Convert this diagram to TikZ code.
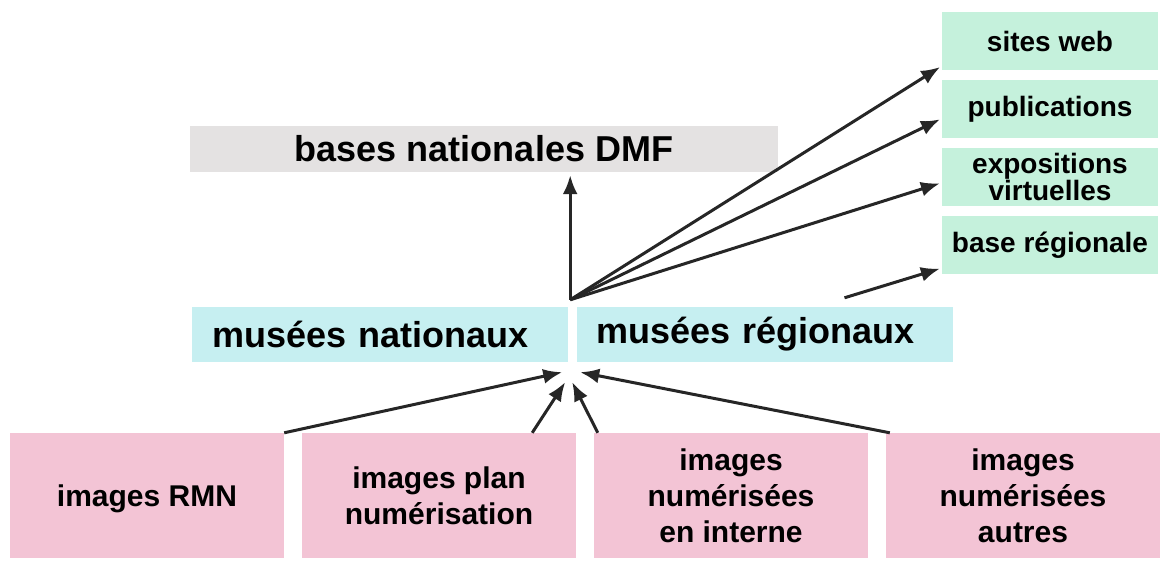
\documentclass[tikz,border=0pt]{standalone}
\usepackage{fontspec}
\setmainfont{Liberation Sans}
\usetikzlibrary{arrows.meta}

\definecolor{greybox}{HTML}{E4E2E2}
\definecolor{cyanbox}{HTML}{C6EFF1}
\definecolor{greenbox}{HTML}{C5F1DC}
\definecolor{pinkbox}{HTML}{F3C4D5}
\definecolor{arrowcol}{HTML}{262626}

\begin{document}
\begin{tikzpicture}[x=1pt, y=-1pt, node distance={68pt},
    base/.style = {fill=greybox, minimum width=588pt, minimum height=46pt, inner sep=0pt, font=\bfseries\fontsize{36}{40}\selectfont},
    musee/.style = {fill=cyanbox, text width=336pt, minimum height=55pt, inner xsep=20pt, inner ysep=0pt, align=left, font=\bfseries\fontsize{36}{40}\selectfont},
    sortie/.style = {fill=greenbox, minimum width=216pt, minimum height=58pt, inner sep=0pt, align=center, font=\bfseries\fontsize{28}{25}\selectfont},
    source/.style = {fill=pinkbox, minimum width=274pt, minimum height=125pt, inner sep=0pt, text depth=-16pt, align=center, font=\bfseries\fontsize{30}{36}\selectfont},
    fleche/.style = {-{Latex[length=19pt,width=15pt]}, line width=3pt, draw=arrowcol}]
            \useasboundingbox (0,0) rectangle (1161,561);

            \node[base] (dmf) at (484,149) {bases nationales DMF};
            \node[musee] (nat) at (380,334.5) {musées nationaux};
            \node[musee] (reg) at (764.5,334.5) {musées régionaux};

            % diffusion
            \node[sortie] (web) at (1050,41) {sites web};
            \node[sortie] (pub) [below of=web] {publications};
            \node[sortie] (expo) [below of=pub] {expositions\\virtuelles};
            \node[sortie] (breg) [below of=expo] {base régionale};

            % sources des images
            \node[source] (rmn) at (147,495.5) {images RMN};
            \node[source, node distance=292pt] (plan) [right of=rmn] {images plan\\numérisation};
            \node[source, node distance=292pt] (interne) [right of=plan] {images\\numérisées\\en interne};
            \node[source, node distance=292pt] (autres) [right of=interne] {images\\numérisées\\autres};

            \coordinate (hub) at ([xshift=2pt,yshift=7pt]nat.north east);
            \coordinate (sink) at (nat.south east);
            \coordinate (regout) at ([xshift=80pt,yshift=9pt]reg.north);

            \draw[fleche, shorten >=3pt] (hub) -- (hub |- dmf.south);
            \draw[fleche, shorten >=2pt] (hub) -- (web.193);
            \draw[fleche, shorten >=2pt] (hub) -- (pub.185);
            \draw[fleche, shorten >=2pt] (hub) -- (expo.183);
            \draw[fleche, shorten >=2pt] (regout) -- (breg.192);

            \draw[fleche] (rmn.north east) -- ([xshift=-6pt,yshift=-10pt]sink);
            \draw[fleche] ([xshift=-44pt]plan.north east) -- ([xshift=-3pt,yshift=-20pt]sink);
            \draw[fleche] ([xshift=4pt]interne.north west) -- ([xshift=4pt,yshift=-20pt]sink);
            \draw[fleche] ([xshift=4pt]autres.north west) -- ([xshift=12pt,yshift=-10pt]sink);
        \end{tikzpicture}
\end{document}
